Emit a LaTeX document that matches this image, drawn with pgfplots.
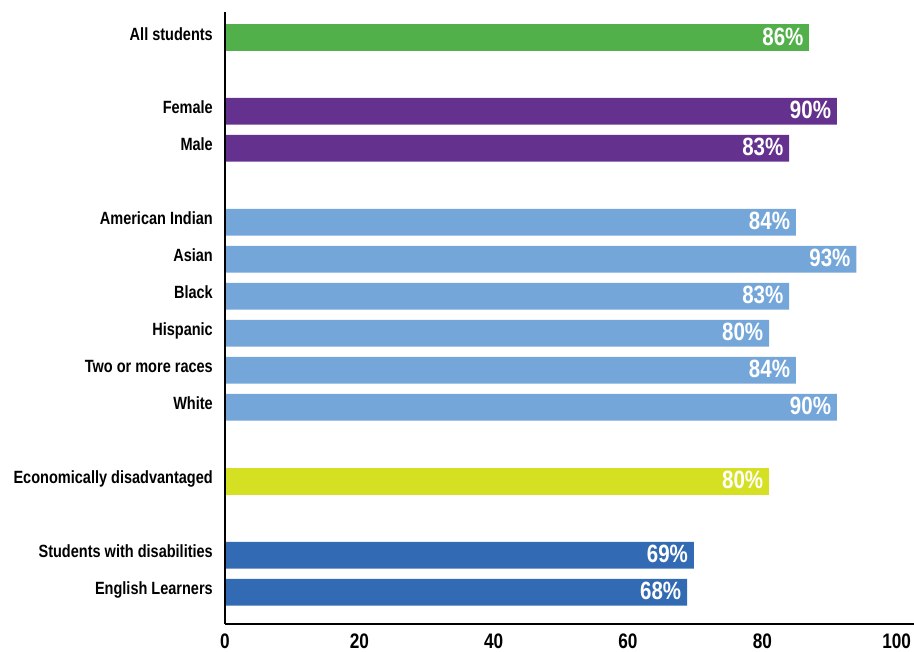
\documentclass[border=0pt]{standalone}
\usepackage{fontspec}
\setmainfont{Liberation Sans}[FakeStretch=0.82]
\usepackage{pgfplots}
\pgfplotsset{compat=1.18}
\definecolor{cgreen}{HTML}{52B04A}
\definecolor{cpurple}{HTML}{65318E}
\definecolor{clblue}{HTML}{74A6DA}
\definecolor{cyellow}{HTML}{D6E023}
\definecolor{cdblue}{HTML}{326AB3}
\begin{document}
\begin{tikzpicture}
\path[use as bounding box] (-225pt,-28pt) rectangle (689pt,624pt);
\begin{axis}[
  at={(0pt,0pt)}, anchor=south west,
  scale only axis, width=689pt, height=611.7pt,
  xbar, bar width=0.72, bar shift=0pt,
  xmin=0, xmax=102.58, ymin=-0.857, ymax=15.676,
  axis lines*=left, axis line style={line width=1.8pt, black},
  axis on top,
  major tick length=0pt,
  xtick={0,20,40,60,80,100}, xticklabels={0,20,40,60,80,100},
  ytick={0,1,3,5,6,7,8,9,10,12,13,15},
  yticklabels={English Learners, Students with disabilities, Economically disadvantaged, White, Two or more races, Hispanic, Black, Asian, American Indian, Male, Female, All students},
  yticklabel style={font=\bfseries\fontsize{17.7}{18}\selectfont, anchor=base east, inner sep=0pt, xshift=-12pt, yshift=-2.7pt},
  xticklabel style={font=\bfseries\fontsize{21}{23}\selectfont, anchor=base, inner sep=0pt, yshift=-24.5pt},
  point meta=explicit symbolic,
  nodes near coords={\pgfplotspointmeta\%},
  every node near coord/.append style={anchor=base east, inner sep=0pt, xshift=-5.7pt, yshift=-7.7pt, text=white, font=\bfseries\fontsize{25}{26}\selectfont},
  clip=false,
]
\addplot[fill=cgreen, draw=none] coordinates {(87.0,15) [86]};
\addplot[fill=cpurple, draw=none] coordinates {(91.1,13) [90] (84.0,12) [83]};
\addplot[fill=clblue, draw=none] coordinates {(85.0,10) [84] (94.0,9) [93] (84.0,8) [83] (81.0,7) [80] (85.0,6) [84] (91.1,5) [90]};
\addplot[fill=cyellow, draw=none] coordinates {(81.0,3) [80]};
\addplot[fill=cdblue, draw=none] coordinates {(69.8,1) [69] (68.8,0) [68]};
\end{axis}
\end{tikzpicture}
\end{document}
